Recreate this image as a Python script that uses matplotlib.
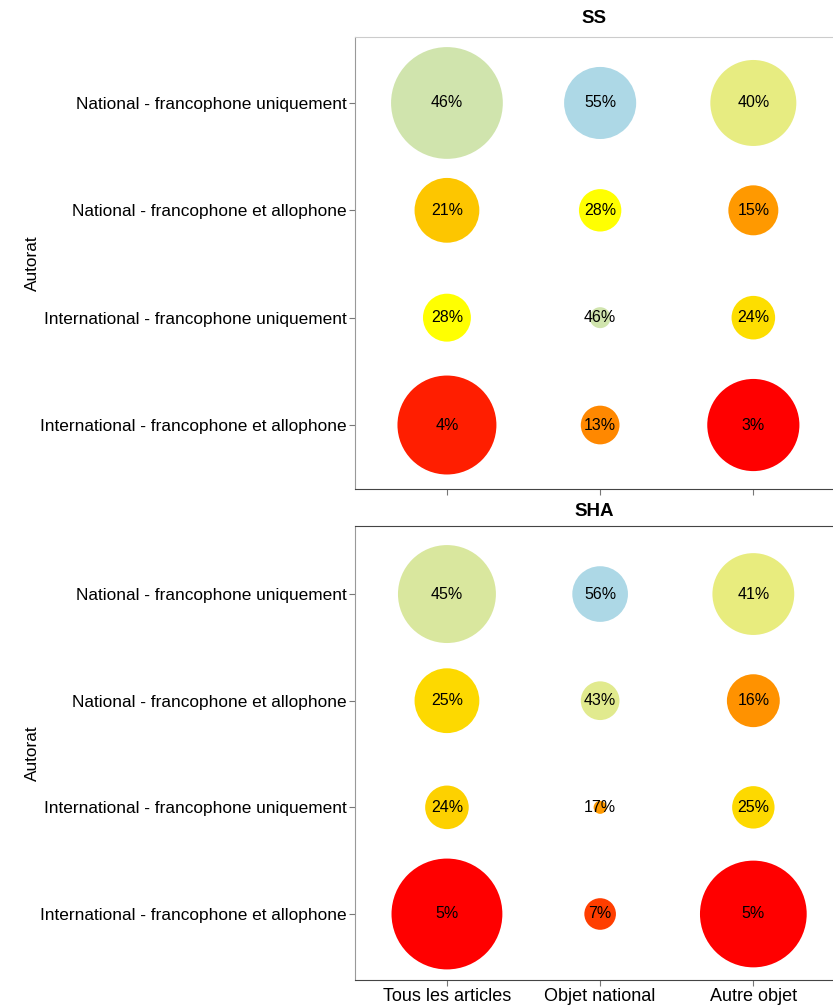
import numpy as np
import matplotlib.pyplot as plt
from matplotlib.colors import LinearSegmentedColormap, Normalize

plt.rcParams['font.family'] = ['Liberation Sans', 'DejaVu Sans']

# ---- données ----
objets = ['Tous les articles', 'Objet national', 'Autre objet']
autorats = ['National - francophone uniquement',
            'National - francophone et allophone',
            'International - francophone uniquement',
            'International - francophone et allophone']

# pourcentages affichés dans les bulles (lignes = autorat, colonnes = objet)
pct_ss = [[46, 55, 40],
          [21, 28, 15],
          [28, 46, 24],
          [4, 13, 3]]
pct_sha = [[45, 56, 41],
           [25, 43, 16],
           [24, 17, 25],
           [5, 7, 5]]

# effectifs (taille des bulles)
n_ss = [[125, 52, 74],
        [42, 18, 25],
        [23, 4.4, 19],
        [98, 15, 85]]
n_sha = [[96, 31, 67],
         [42, 15, 28],
         [19, 1.7, 18],
         [123, 10, 114]]

# ---- palette : rouge -> orange -> jaune -> vert pâle -> bleu clair ----
cmap = LinearSegmentedColormap.from_list('autorat', [
    (0.0, '#ff0000'), (0.03, '#ff3a00'), (0.2, '#ff8c00'),
    (0.38, '#fdd400'), (0.48, '#ffff00'), (0.71, '#e8ec80'),
    (0.8, '#d6e6a4'), (1.0, '#add8e6')])

fig = plt.figure(figsize=(8.33, 10.07), dpi=100)
ax1 = fig.add_axes([0.4262, 0.5144, 0.5738, 0.4489])
ax2 = fig.add_axes([0.4262, 0.0268, 0.5738, 0.4508])


def bulles(ax, pct, n, titre, ylim, spine_top, pad):
    pct = np.array(pct)
    n = np.array(n)
    xx, yy = np.meshgrid(np.arange(len(objets)), np.arange(len(autorats)))
    norm = Normalize(vmin=pct.min(), vmax=pct.max())
    ax.scatter(xx.ravel(), yy.ravel(), s=n.ravel() * 51.8,
               c=pct.ravel(), cmap=cmap, norm=norm, linewidths=0, zorder=2)
    for x, y, p in zip(xx.ravel(), yy.ravel(), pct.ravel()):
        ax.text(x, y, f'{p}%', ha='center', va='center', fontsize=11.5, zorder=3)

    ax.set_xlim(-0.6, 2.52)
    ax.set_ylim(*ylim)
    ax.set_xticks(range(len(objets)))
    ax.set_yticks(range(len(autorats)))
    ax.set_yticklabels(autorats, fontsize=12.4)
    ax.set_ylabel('Autorat', fontsize=12.4, labelpad=0)
    ax.set_title(titre, fontsize=13.5, fontweight='bold', pad=pad)

    ax.spines['right'].set_visible(False)
    ax.spines['top'].set_color(spine_top)
    ax.spines['left'].set_color('#999999')
    ax.spines['bottom'].set_color('#444444')
    ax.tick_params(length=4, color='#777777', pad=2)


bulles(ax1, pct_ss, n_ss, 'SS', (3.596, -0.615), '#cccccc', 10)
bulles(ax2, pct_sha, n_sha, 'SHA', (3.619, -0.6375), '#444444', 7)

ax1.set_xticklabels([])
ax2.set_xticklabels(objets, fontsize=13)

fig.savefig('out.png', dpi=100)
